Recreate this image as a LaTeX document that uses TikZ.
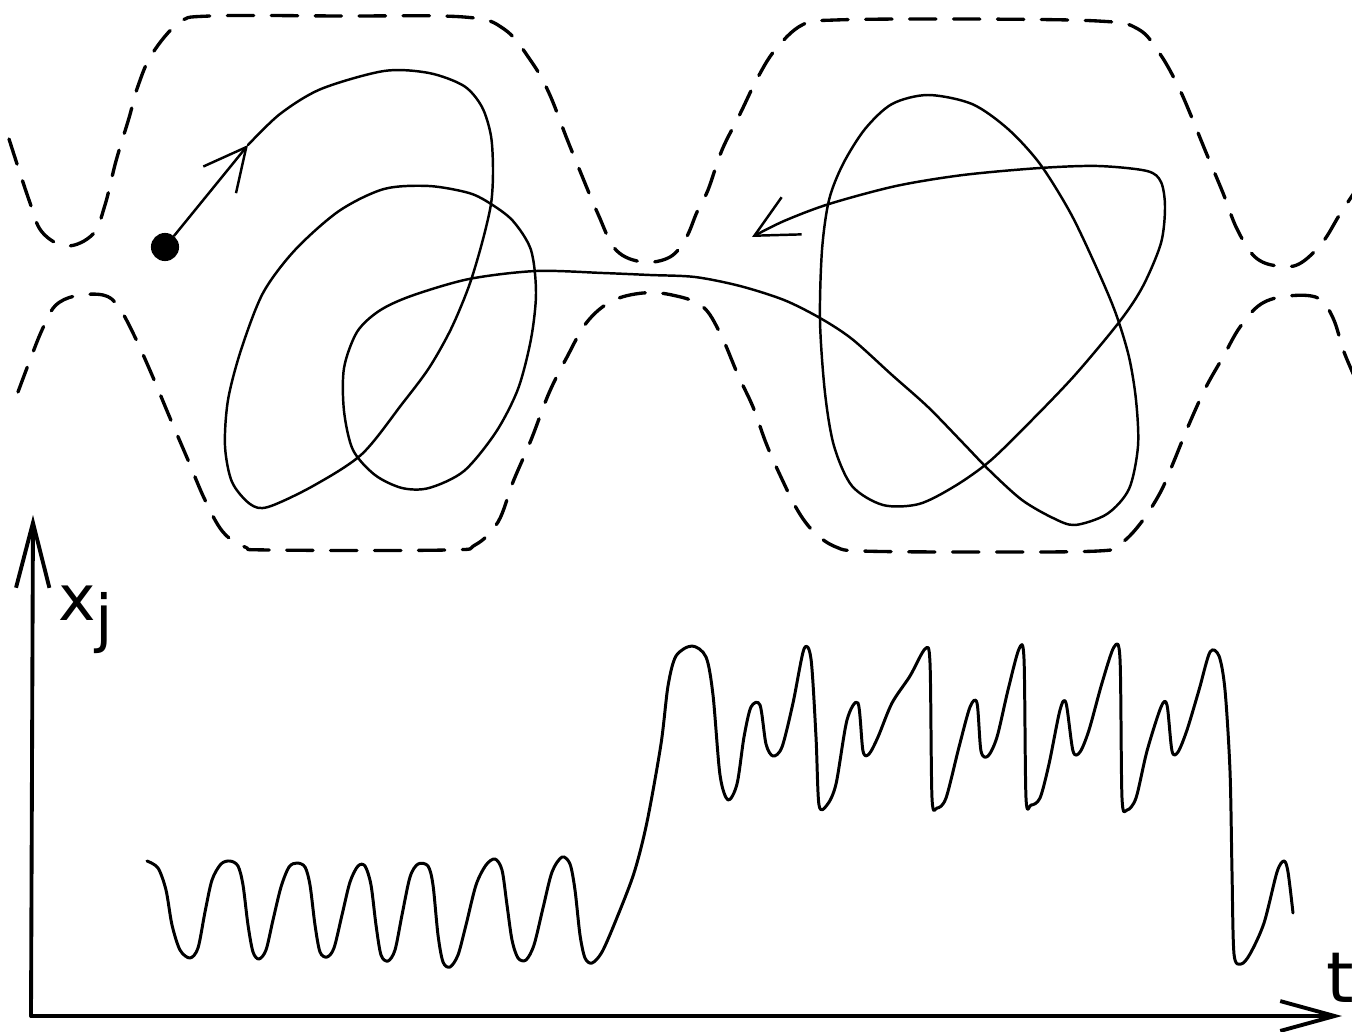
\documentclass[tikz,border=0pt]{standalone}
\usepackage{fontspec}
\setsansfont{DejaVu Sans}
\usetikzlibrary{arrows.meta}

\begin{document}
\begin{tikzpicture}[x=0.02cm,y=-0.02cm,line cap=round,line join=round,
  wall/.style={line width=1.9pt,dash pattern=on 15pt off 10pt},
  orbit/.style={line width=1.4pt},
  signal/.style={line width=1.7pt},
  axisline/.style={line width=2.2pt},
  barb/.style={-{Straight Barb[length=24pt,width=24pt]}},
  lbl/.style={font=\sffamily\fontsize{36}{40}\selectfont,inner sep=0pt}]
\useasboundingbox (0,0) rectangle (1352,1031);

% potential walls
\draw[wall] plot[smooth,tension=0.6] coordinates {(9,139) (29,200) (42,232) (67,246) (93,234) (105,205) (116,161) (129,118) (138,86) (152,54) (179,23) (210,16) (340,16) (464,17) (504,29) (531,61) (549,93) (567,139) (580,171) (598,214) (616,250) (643,262) (670,257) (686,238) (697,212) (708,190) (722,150) (740,114) (757,79) (775,50) (802,25) (835,20) (960,19) (1098,21) (1138,29) (1160,54) (1178,86) (1192,118) (1205,150) (1223,193) (1237,229) (1255,257) (1277,266) (1299,264) (1322,243) (1340,214) (1356,190)};
\draw[wall] plot[smooth,tension=0.6] coordinates {(18,392) (30,360) (42,330) (55,306) (75,296) (103,295) (118,306) (134,335) (152,375) (170,418) (188,460) (205,500) (223,532) (245,547) (270,550) (446,550) (475,545) (498,522) (513,482) (531,440) (549,393) (567,357) (587,322) (612,301) (643,293) (672,295) (702,306) (720,333) (738,375) (753,407) (766,443) (780,475) (798,511) (815,533) (836,547) (862,551) (970,552) (1098,551) (1120,544) (1140,524) (1160,493) (1174,461) (1187,429) (1205,389) (1223,357) (1240,327) (1261,304) (1288,296) (1318,298) (1333,318) (1344,352) (1356,380)};

% trajectory
\node[circle,fill,inner sep=0pt,minimum size=16pt] (start) at (165,247) {};
\coordinate (tip1) at (248,145);
\draw[orbit,barb] (start) -- (tip1);
\draw[orbit,barb] plot[smooth] coordinates {(tip1) (280,114) (321,89) (384,71) (429,73) (464,86) (482,107) (491,136) (493,171) (491,204) (482,243) (469,286) (451,329) (429,368) (402,404) (362,454) (313,486) (268,507) (250,504) (232,482) (225,446) (228,400) (241,350) (263,293) (295,250) (339,211) (384,189) (429,186) (469,193) (491,204) (513,221) (531,250) (536,293) (531,339) (518,389) (496,432) (464,471) (429,488) (402,488) (375,475) (353,450) (344,411) (344,368) (357,332) (379,311) (411,296) (469,279) (536,271) (603,273) (650,275) (695,277) (740,286) (784,300) (820,318) (852,339) (892,375) (928,407) (963,443) (990,471) (1022,500) (1053,518) (1075,525) (1107,514) (1129,489) (1138,446) (1136,400) (1129,357) (1116,314) (1098,271) (1071,214) (1040,164) (1008,129) (972,104) (928,95) (892,104) (865,129) (843,164) (829,200) (822,250) (820,321) (825,393) (834,446) (852,486) (883,505) (919,504) (955,486) (990,461) (1031,421) (1075,375) (1120,321) (1143,286) (1161,243) (1165,207) (1161,182) (1147,171) (1098,166) (1040,168) (963,175) (896,186) (829,204) (784,221) (752,237)};

% axes
\coordinate (o) at (31,1016);
\coordinate (ytop) at (33,515);
\coordinate (xend) at (1342,1016);
\draw[axisline,-{Straight Barb[length=37pt,width=19pt]}] (o) -- (ytop);
\draw[axisline,-{Straight Barb[length=31pt,width=17pt]}] (o) -- (xend);
\node[lbl,anchor=base west] (xj) at (58,620) {x\raisebox{-0.32em}{j}};
\node[lbl,font=\sffamily\fontsize{40}{44}\selectfont,anchor=base west] (tlab) at (1326,1002) {t};

% time series
\draw[signal] plot[smooth,tension=0.5] coordinates {(147,861) (158,868) (166,890) (172,925) (180,950) (190,958) (198,948) (205,912) (212,880) (221,864) (230,861) (238,866) (243,885) (248,925) (253,952) (259,959) (266,950) (273,920) (281,887) (289,867) (297,863) (305,867) (310,885) (315,925) (320,952) (327,957) (334,948) (342,915) (350,882) (358,866) (365,866) (371,885) (376,925) (381,955) (388,961) (395,950) (402,915) (410,877) (418,864) (428,866) (433,885) (438,935) (443,962) (450,967) (458,955) (466,925) (476,885) (486,865) (495,859) (502,870) (507,905) (512,940) (518,958) (526,960) (534,945) (543,908) (552,872) (562,857) (570,864) (575,890) (580,935) (585,958) (592,963) (602,952) (616,920) (634,873) (647,822) (661,744) (668,686) (676,656) (692,646) (706,657) (713,695) (720,775) (728,800) (737,784) (744,737) (751,707) (760,705) (766,744) (773,756) (782,747) (793,703) (804,649) (811,659) (816,737) (819,805) (827,805) (836,784) (847,720) (858,703) (863,751) (869,754) (878,737) (892,703) (910,676) (925,649) (930,663) (932,798) (937,808) (946,798) (959,747) (970,707) (977,703) (981,751) (988,756) (997,737) (1008,690) (1019,649) (1024,659) (1026,798) (1031,805) (1040,798) (1049,764) (1060,710) (1066,703) (1073,751) (1080,752) (1089,730) (1102,683) (1114,647) (1120,659) (1122,798) (1127,810) (1136,798) (1147,751) (1161,707) (1167,705) (1172,751) (1178,752) (1187,730) (1199,690) (1210,652) (1219,656) (1225,690) (1230,771) (1232,872) (1234,954) (1241,964) (1250,954) (1264,923) (1277,872) (1284,861) (1288,872) (1293,913)};
\end{tikzpicture}
\end{document}
